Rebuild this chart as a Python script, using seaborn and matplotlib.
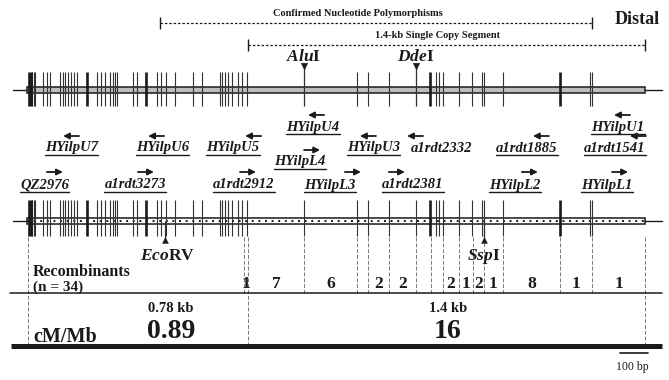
import matplotlib
matplotlib.use("Agg")
import matplotlib.pyplot as plt
import seaborn as sns
import numpy as np
import pandas as pd

# ---------------- data (positions in bp, 0 = start of 1.4-kb single copy segment) ----------
snp_pos = [-772, -767, -762, -756, -751, -723, -709, -698, -663, -652, -645, -635, -624,
           -614, -603, -568, -532, -518, -504, -487, -476, -469, -462, -406, -391, -360,
           -321, -307, -289, -257, -194, -162, -99, -92, -81, -71, -56, -35, -21, -4,
           384, 423, 497, 642, 663, 674, 688, 744, 790, 825, 832, 899, 1100, 1206, 1213]
snp_thick = [-772, -767, -568, -360, 642, 1100]

sites_top = ["AluI", "DdeI"]
sites_top_pos = [197, 592]
sites_bot = ["EcoRV", "SspI"]
sites_bot_pos = [-293, 832]

rec_bounds = [-775, -14, 0, 197, 384, 423, 497, 592, 645, 688, 744, 793, 832, 899, 1100, 1213, 1400]
rec_counts = [0, 1, 7, 6, 0, 2, 2, 0, 0, 2, 1, 2, 1, 8, 1, 1]
long_bounds = [-775, 0, 1400]

primer_names = ["HYilpU4", "HYilpU1", "HYilpU7", "HYilpU6", "HYilpU5", "HYilpU3", "a1rdt2332",
                "a1rdt1885", "a1rdt1541", "HYilpL4", "QZ2976", "a1rdt3273", "a1rdt2912",
                "HYilpL3", "a1rdt2381", "HYilpL2", "HYilpL1"]
primer_label_x = [229, 1305, -621, -300, -53, 444, 681, 984, 1294, 183, -716, -398, -14,
                  289, 582, 942, 1266]
primer_arrow_x = [240, 1319, -624, -324, 18, 423, 589, 1033, 1375, 226, -681, -360, 0,
                  370, 525, 994, 1312]
primer_row = [0, 0, 1, 1, 1, 1, 1, 1, 1, 2, 3, 3, 3, 3, 3, 3, 3]
primer_dir = [-1, -1, -1, -1, -1, -1, -1, -1, -1, 1, 1, 1, 1, 1, 1, 1, 1]
primer_underlined = [True] * 6 + [False] + [True] * 10

region_labels = ["0.78 kb", "1.4 kb"]
region_centers = [-272, 705]
region_cm_mb = ["0.89", "16"]

confirmed_span = [-310, 1213]
single_copy_span = [0, 1400]
scale_bar_bp = 100

# ---------------- layout helpers ----------------
PX_PER_BP = 0.28357
X_LEFT = -248 / PX_PER_BP
X_RIGHT = (669 - 248) / PX_PER_BP
def px(v):  # horizontal pixel length -> bp
    return v / PX_PER_BP

sns.set_theme(style="white")
plt.rcParams["font.family"] = ["Liberation Serif", "DejaVu Serif"]
plt.rcParams["mathtext.fontset"] = "custom"
plt.rcParams["mathtext.it"] = "Liberation Serif:italic:bold"
plt.rcParams["mathtext.rm"] = "Liberation Serif:bold"
plt.rcParams["mathtext.bf"] = "Liberation Serif:bold"

fig = plt.figure(figsize=(6.69, 3.80), dpi=100)
ax = fig.add_axes([0, 0, 1, 1])
ax.set_xlim(X_LEFT, X_RIGHT)
ax.set_ylim(380, 0)
ax.axis("off")

INK = "#1a1a1a"
left_end = X_LEFT + px(13)
right_end = X_LEFT + px(662)
band_l, band_r = -780, 1400

def draw_track(yc, ytop, ybot, dotted):
    ax.plot([left_end, right_end], [yc, yc], color=INK, lw=1.0, zorder=2)
    ax.add_patch(plt.Rectangle((band_l, yc - 3), band_r - band_l, 6,
                               facecolor="#bdbdbd" if not dotted else "white",
                               edgecolor=INK, lw=1.1, zorder=3))
    if dotted:
        ax.plot([band_l, band_r], [yc, yc], color=INK, lw=1.4, ls=(0, (1, 2.4)), zorder=4)
    thin = [p for p in snp_pos if p not in snp_thick]
    ax.vlines(thin, ytop, ybot, color="#333333", lw=0.8, zorder=5)
    ax.vlines(snp_thick, ytop, ybot, color=INK, lw=1.9, zorder=5)

# top track
draw_track(90, 72, 106, False)
ax.vlines(sites_top_pos, 66, 106, color="#333333", lw=0.9, zorder=5)
sns.scatterplot(x=sites_top_pos, y=[66] * 2, marker="v", s=22, color=INK, ax=ax, zorder=6, edgecolor=INK)
for name, xpos in zip(sites_top, sites_top_pos):
    ax.text(xpos, 57, f"${name[:-1]}$I", ha="center", va="center", fontsize=12.5, fontweight="bold", color=INK)

# bottom track
draw_track(221, 200, 236, True)
ax.vlines([197, 592], 200, 236, color="#333333", lw=0.8, zorder=5)
for xpos in sites_bot_pos:
    ax.vlines(xpos, 221, 240, color="#333333", lw=0.9, zorder=5)
sns.scatterplot(x=sites_bot_pos, y=[240] * 2, marker="^", s=18, color=INK, ax=ax, zorder=6, edgecolor=INK)
ax.text(sites_bot_pos[0] + px(3), 256, "$Eco$RV", ha="center", va="center", fontsize=12.5, fontweight="bold", color=INK)
ax.text(sites_bot_pos[1], 256, "$Ssp$I", ha="center", va="center", fontsize=12.5, fontweight="bold", color=INK)

# recombinant boundaries
for b in rec_bounds:
    yend = 346 if b in long_bounds else 293
    ax.vlines(b, 237, yend, color="#777777", lw=0.7, ls=(0, (4, 2)), zorder=1)
mids = [(a + b) / 2 for a, b in zip(rec_bounds[:-1], rec_bounds[1:])]
for m, c in zip(mids, rec_counts):
    if c > 0:
        ax.text(m, 284, str(c), ha="center", va="center", fontsize=12.5, fontweight="bold", color=INK)
ax.text(X_LEFT + px(33), 272, "Recombinants", ha="left", va="center", fontsize=11.5, fontweight="bold", color=INK)
ax.text(X_LEFT + px(33), 287, "(n = 34)", ha="left", va="center", fontsize=11, fontweight="bold", color=INK)
ax.plot([X_LEFT + px(10), right_end], [293, 293], color=INK, lw=1.1, zorder=2)

# region summary
for lab, cx, cm in zip(region_labels, region_centers, region_cm_mb):
    ax.text(cx, 309, lab, ha="center", va="center", fontsize=10.5, fontweight="bold", color=INK)
    ax.text(cx, 332, cm, ha="center", va="center", fontsize=20, fontweight="bold", color=INK)
ax.text(X_LEFT + px(33), 337, "cM/Mb", ha="left", va="center", fontsize=14.5, fontweight="bold", color=INK)
ax.plot([X_LEFT + px(11), right_end], [346, 346], color=INK, lw=3.6, zorder=2, solid_capstyle="butt")

# scale bar
sb_r = X_LEFT + px(648)
ax.plot([sb_r - scale_bar_bp, sb_r], [353, 353], color=INK, lw=1.2)
ax.text(sb_r - scale_bar_bp / 2 + px(-2), 367, "100 bp", ha="center", va="center", fontsize=8.5, color=INK)

# top spans
def span(xs, y, label, ly, lx):
    ax.plot(xs, [y, y], color=INK, lw=0.9, ls=(0, (2, 1.5)))
    ax.vlines(xs, y - 6, y + 6, color=INK, lw=1.0)
    ax.text(lx, ly, label, ha="center", va="center", fontsize=7.5, fontweight="bold", color=INK)
span(confirmed_span, 23, "Confirmed Nucleotide Polymorphisms", 14, X_LEFT + px(358))
span(single_copy_span, 45, "1.4-kb Single Copy Segment", 35, X_LEFT + px(438))
ax.text(X_LEFT + px(637), 19, "Distal", ha="center", va="center", fontsize=13, fontweight="bold", color=INK)

# primers
row_text_y = [127, 148, 162, 185]
row_arrow_y = [115, 136, 150, 172]
texts = []
for name, lx, axp, r, d, ul in zip(primer_names, primer_label_x, primer_arrow_x, primer_row, primer_dir, primer_underlined):
    t = ax.text(lx, row_text_y[r], name, ha="center", va="center", fontsize=10.5, fontweight="bold",
                fontstyle="italic", color=INK)
    texts.append((t, ul))
    half = px(8)
    x0, x1 = (axp + half, axp - half) if d < 0 else (axp - half, axp + half)
    ax.annotate("", xy=(x1, row_arrow_y[r]), xytext=(x0, row_arrow_y[r]),
                arrowprops=dict(arrowstyle="-|>", color=INK, lw=1.3, mutation_scale=9, shrinkA=0, shrinkB=0))

fig.canvas.draw()
renderer = fig.canvas.get_renderer()
inv = ax.transData.inverted()
for t, ul in texts:
    if not ul:
        continue
    bb = t.get_window_extent(renderer)
    (xa, ya), (xb, yb) = inv.transform([[bb.x0, bb.y0], [bb.x1, bb.y1]])
    ax.plot([xa, xb], [ya + 0.5, ya + 0.5], color=INK, lw=1.0)

fig.savefig("out.png", dpi=100, facecolor="white")
